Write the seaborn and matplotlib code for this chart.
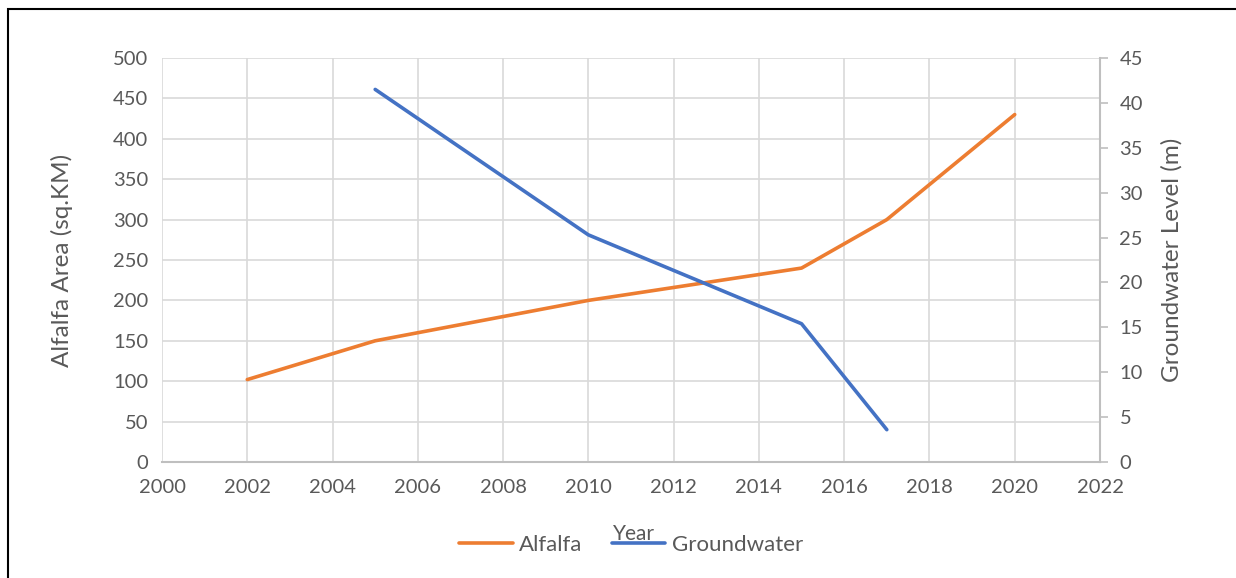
import matplotlib
matplotlib.use("Agg")
import matplotlib.pyplot as plt
import seaborn as sns
import pandas as pd
from matplotlib.patches import Rectangle

# Alfalfa cultivated area (sq. km) by year
alfalfa_years = [2002, 2005, 2010, 2015, 2017, 2020]
alfalfa_area = [102, 150, 200, 240, 300, 430]

# Groundwater level (m) by year
gw_years = [2005, 2010, 2015, 2017]
gw_level = [41.5, 25.3, 15.4, 3.6]

x_ticks = list(range(2000, 2023, 2))
left_ticks = list(range(0, 501, 50))
right_ticks = list(range(0, 46, 5))

ORANGE = "#ED7D31"
BLUE = "#4472C4"
TEXT = "#595959"
GRID = "#D9D9D9"
SPINE = "#BFBFBF"

sns.set_theme(style="white")
plt.rcParams["font.family"] = ["Lato", "DejaVu Sans"]

fig = plt.figure(figsize=(12.36, 5.78), dpi=100)
ax = fig.add_axes([162 / 1236, 1 - 462 / 578, (1100 - 162) / 1236, (462 - 58) / 578])
ax2 = ax.twinx()

df_a = pd.DataFrame({"Year": alfalfa_years, "Area": alfalfa_area})
df_g = pd.DataFrame({"Year": gw_years, "Level": gw_level})

sns.lineplot(data=df_a, x="Year", y="Area", ax=ax, color=ORANGE, linewidth=2.6,
             label="Alfalfa", legend=False)
sns.lineplot(data=df_g, x="Year", y="Level", ax=ax2, color=BLUE, linewidth=2.6,
             label="Groundwater", legend=False)

ax.set_xlim(2000, 2022)
ax.set_ylim(0, 500)
ax2.set_ylim(0, 45)
ax.set_xticks(x_ticks)
ax.set_yticks(left_ticks)
ax2.set_yticks(right_ticks)

ax.grid(True, color=GRID, linewidth=1.2)
ax.set_axisbelow(True)
ax2.grid(False)

for s in ["top", "left", "right"]:
    ax.spines[s].set_visible(False)
ax.spines["bottom"].set_color(SPINE)
ax.spines["bottom"].set_linewidth(1.5)
for s in ["top", "left", "bottom"]:
    ax2.spines[s].set_visible(False)
ax2.spines["right"].set_color(SPINE)
ax2.spines["right"].set_linewidth(1.5)

fs = 14.5
lfs = 17.5
ax.tick_params(axis="both", length=0, labelsize=fs, labelcolor=TEXT, pad=10)
ax.tick_params(axis="x", pad=12)
ax2.tick_params(axis="y", length=6, width=1.2, color=SPINE, direction="out",
                labelsize=fs, labelcolor=TEXT, pad=8)

ax.set_ylabel("Alfalfa Area (sq.KM)", fontsize=lfs, color=TEXT, va="center")
ax.yaxis.set_label_coords((62 - 162) / 938, 0.5)
ax2.set_ylabel("Groundwater Level (m)", fontsize=lfs, color=TEXT, va="center")
ax2.yaxis.set_label_coords((1172 - 162) / 938, 0.5)
ax.set_xlabel("Year", fontsize=fs + 0.5, color=TEXT, va="center")
ax.xaxis.set_label_coords((634 - 162) / 938, (462 - 534) / 404)

handles = ax.get_lines()[:1] + ax2.get_lines()[:1]
leg = fig.legend(handles, ["Alfalfa", "Groundwater"], loc="center",
                 bbox_to_anchor=(631 / 1236, 1 - 545 / 578), ncol=2, frameon=False,
                 fontsize=16, handlelength=2.4, columnspacing=1.3, handletextpad=0.3)
for t in leg.get_texts():
    t.set_color(TEXT)

# chart frame
fig.patches.append(Rectangle((8 / 1236, -0.1), 1.2, 1.1 - 9 / 578,
                             transform=fig.transFigure, fill=False,
                             edgecolor="black", linewidth=1.5))

fig.savefig("out.png", dpi=100)
